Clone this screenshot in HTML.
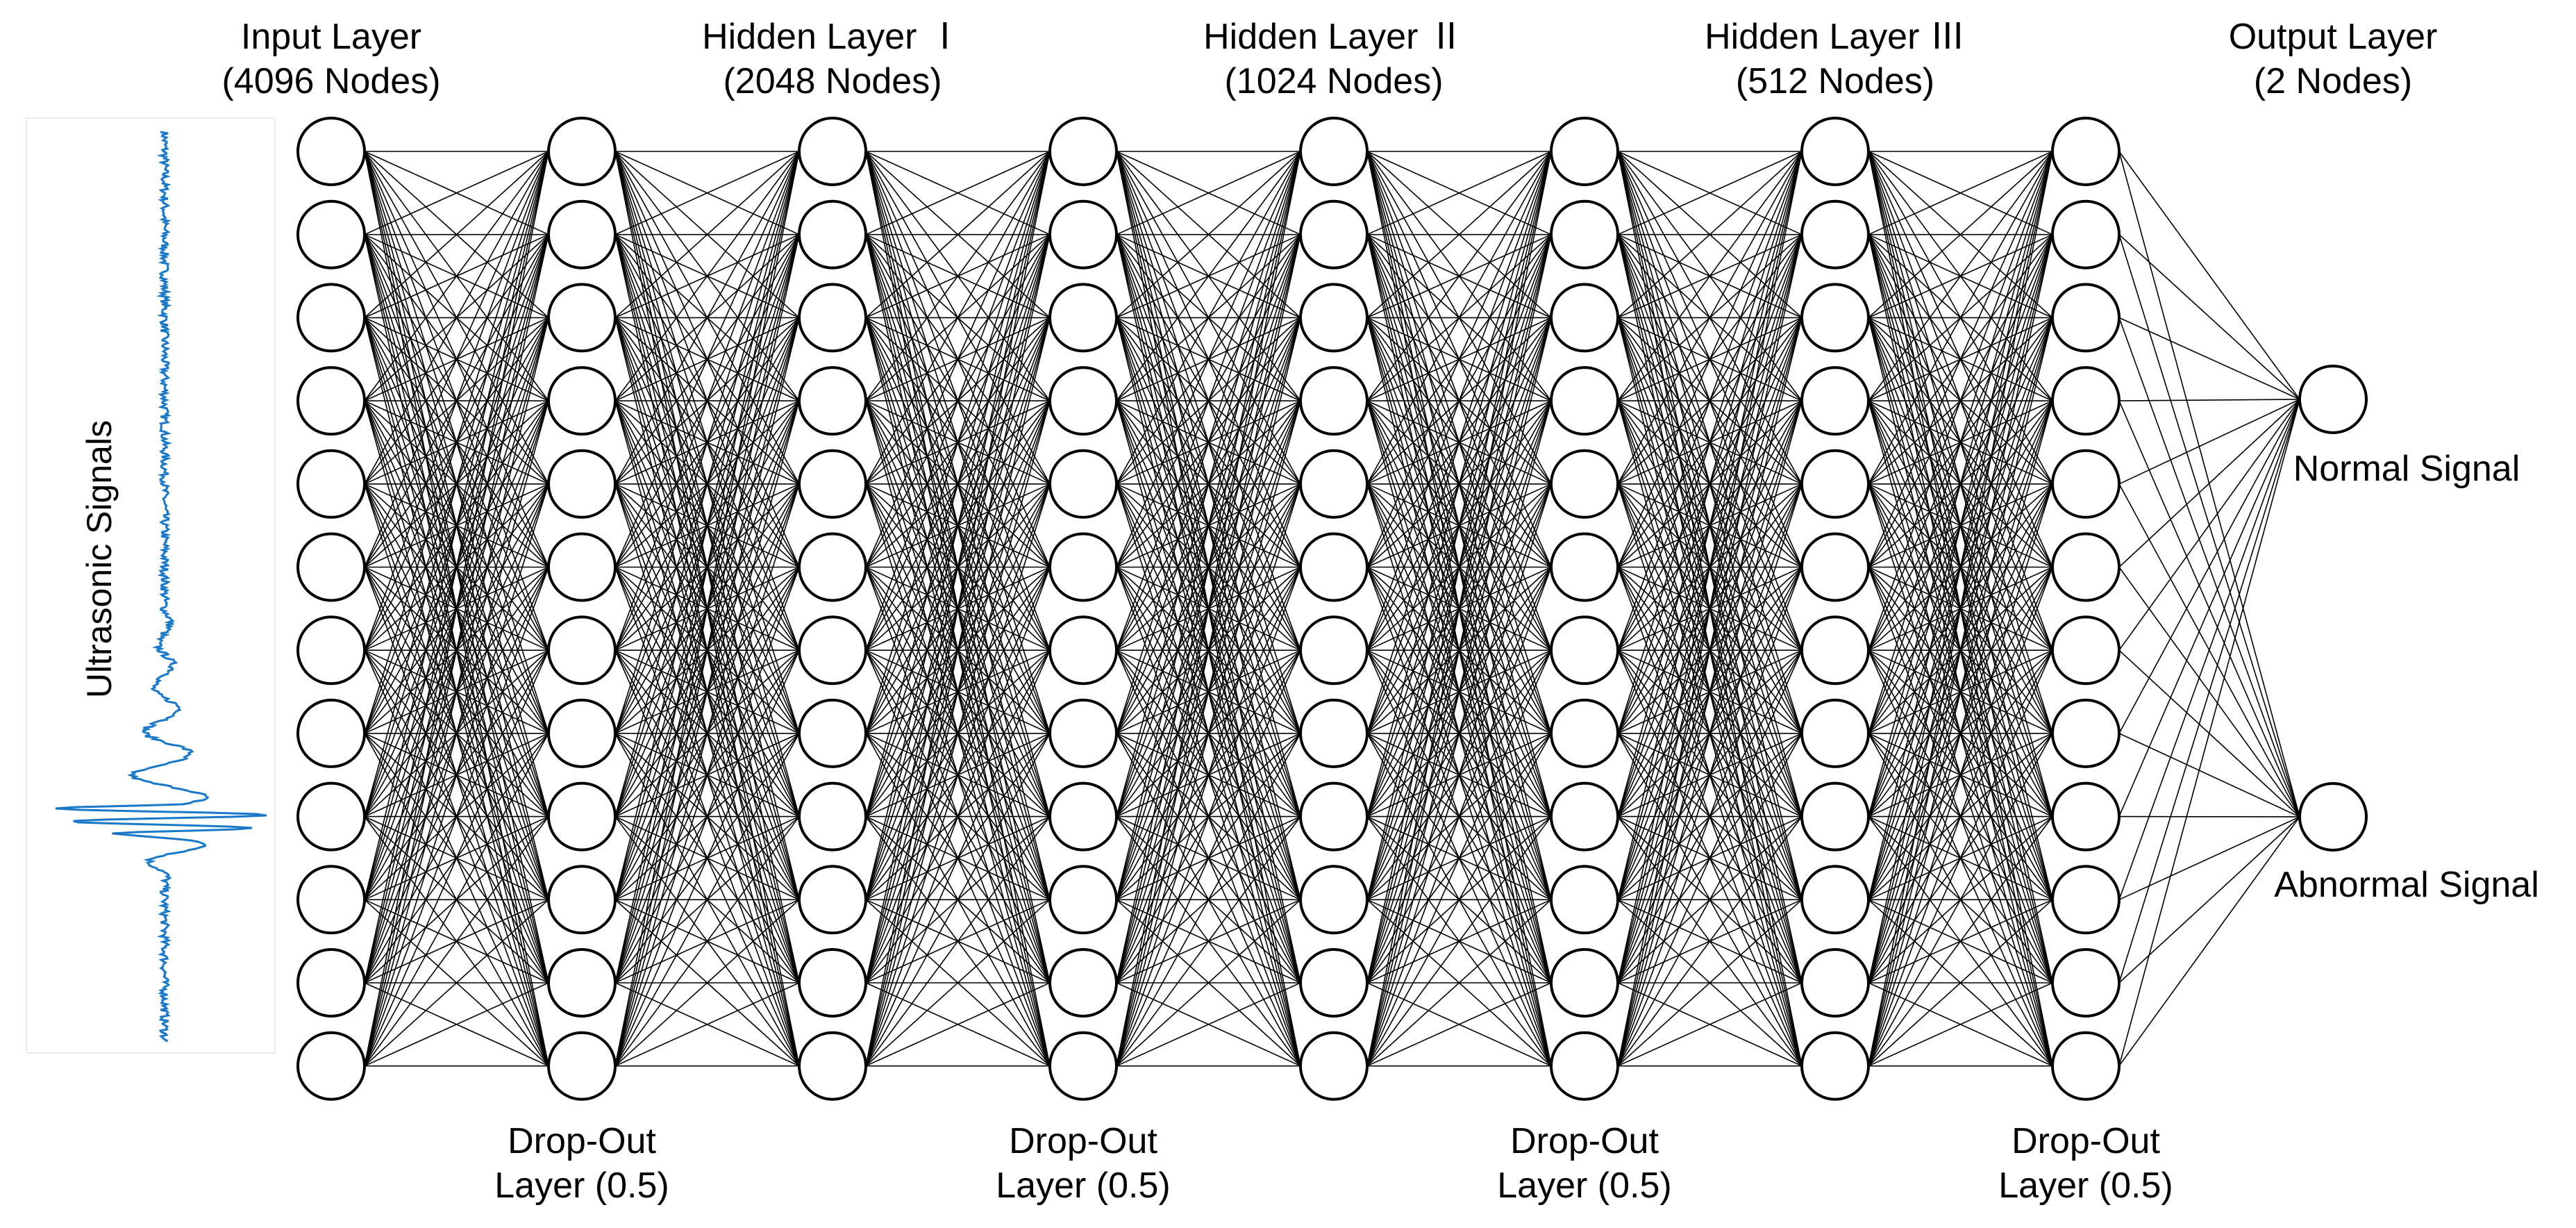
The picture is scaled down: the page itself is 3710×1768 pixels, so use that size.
<!DOCTYPE html>
<html><head><meta charset="utf-8">
<style>
html,body{margin:0;padding:0;background:#fff;}
body{width:3710px;height:1768px;overflow:hidden;}
svg{display:block;}
text{font-family:"Liberation Sans","Noto Sans CJK KR",sans-serif;fill:#000;}
.rn{font-family:"Noto Sans CJK KR","Noto Sans CJK JP",sans-serif;}
</style></head>
<body>
<svg id="s" width="3710" height="1768" viewBox="0 0 3710 1768" xmlns="http://www.w3.org/2000/svg">
<g id="lines" stroke="#000" stroke-width="1.6"></g>
<g id="nodes" fill="#fff" stroke="#000" stroke-width="4"></g>
<rect x="38" y="170" width="358" height="1346" fill="none" stroke="#ececec" stroke-width="2"/>
<polyline id="wave" fill="none" stroke="#1a78c8" stroke-width="3" points=""/>
<text transform="translate(160,805) rotate(-90)" font-size="50" text-anchor="middle">Ultrasonic Signals</text>
<g font-size="52" text-anchor="middle">
<text x="477" y="70">Input Layer</text><text x="477" y="134">(4096 Nodes)</text>
<text x="1199" y="70">Hidden Layer <tspan class="rn">Ⅰ</tspan></text><text x="1199" y="134">(2048 Nodes)</text>
<text x="1921" y="70">Hidden Layer <tspan class="rn">Ⅱ</tspan></text><text x="1921" y="134">(1024 Nodes)</text>
<text x="2643" y="70">Hidden Layer <tspan class="rn">Ⅲ</tspan></text><text x="2643" y="134">(512 Nodes)</text>
<text x="3360" y="70">Output Layer</text><text x="3360" y="134">(2 Nodes)</text>
<text x="838" y="1660">Drop-Out</text><text x="838" y="1724">Layer (0.5)</text>
<text x="1560" y="1660">Drop-Out</text><text x="1560" y="1724">Layer (0.5)</text>
<text x="2282" y="1660">Drop-Out</text><text x="2282" y="1724">Layer (0.5)</text>
<text x="3004" y="1660">Drop-Out</text><text x="3004" y="1724">Layer (0.5)</text>
<text x="3466" y="692">Normal Signal</text>
<text x="3466" y="1291">Abnormal Signal</text>
</g>
</svg>
<script>
(function(){
var NS="http://www.w3.org/2000/svg";
var L=document.getElementById('lines'),N=document.getElementById('nodes');
var cols=[],ys=[],r=48;
for(var k=0;k<8;k++)cols.push(477+k*361);
for(var i=0;i<12;i++)ys.push(218+i*119.7);
function ln(x1,y1,x2,y2){var e=document.createElementNS(NS,'line');e.setAttribute('x1',x1);e.setAttribute('y1',y1);e.setAttribute('x2',x2);e.setAttribute('y2',y2);L.appendChild(e);}
function ci(x,y){var e=document.createElementNS(NS,'ellipse');e.setAttribute('cx',x);e.setAttribute('cy',y);e.setAttribute('rx',r);e.setAttribute('ry',r);N.appendChild(e);}
for(var k=0;k<7;k++)for(var a=0;a<12;a++)for(var b=0;b<12;b++)ln(cols[k]+r,ys[a],cols[k+1]-r,ys[b]);
var outs=[575,1176];
for(var a=0;a<12;a++)for(var b=0;b<2;b++)ln(cols[7]+r,ys[a],3360-r,outs[b]);
for(var k=0;k<8;k++)for(var a=0;a<12;a++)ci(cols[k],ys[a]);
ci(3360,575);ci(3360,1176);
var seed=7;function rnd(){seed=(seed*16807)%2147483647;return seed/2147483647-0.5;}
var pts=[];
for(var y=190;y<=1500;y+=2){
  var x=237+rnd()*12;
  if(y>880&&y<1160){var t=(y-880)/280;x+=Math.sin(y/10)*(8+t*t*55);}
  if(y>=1160&&y<1200){var u=(y-1160)/40;x+=Math.sin(y/3)*165*(1-0.3*u);}
  if(y>=1200&&y<1280){var v=(y-1200)/80;x+=Math.sin(y/8)*100*(1-v)*(1-v);}
  pts.push(x.toFixed(1)+','+y);
}
document.getElementById('wave').setAttribute('points',pts.join(' '));
})();
</script>
</body></html>
